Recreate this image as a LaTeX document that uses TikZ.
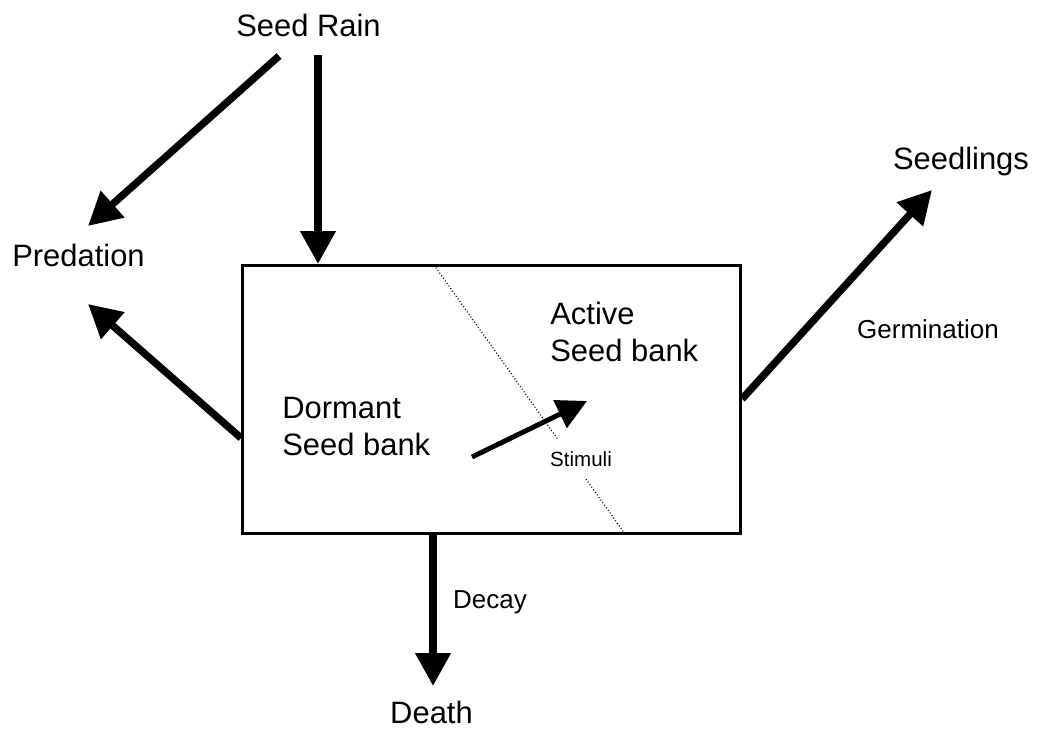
\documentclass[tikz,border=0pt]{standalone}
\usepackage{fontspec}
\setmainfont{Liberation Sans}
\usetikzlibrary{arrows.meta}

\begin{document}
\begin{tikzpicture}[x=0.02cm, y=-0.02cm,
		big/.style={font=\fontsize{17.6}{21}\selectfont, inner sep=0pt},
		mid/.style={font=\fontsize{14.8}{18}\selectfont, inner sep=0pt},
		small/.style={font=\fontsize{11.7}{14}\selectfont, inner sep=0pt},
		flow/.style={line width=4.2pt, -{Triangle[length=0.66cm,width=0.68cm]}},
		cue/.style={line width=2.8pt, -{Triangle[length=0.6cm,width=0.6cm]}}]
	\useasboundingbox (0,0) rectangle (1037,729);
	% the seed bank box
	\node[draw, line width=1.7pt, minimum width=9.98cm, minimum height=5.38cm, inner sep=0pt](bank) at (491.5,399.5){};
	\node[big, anchor=north west, align=left](active) at (550,302){Active\\Seed bank};
	\node[big, anchor=north west, align=left](dormant) at (282,397){Dormant\\Seed bank};
	% outside
	\node[big, anchor=base](rain) at (308.5,37){Seed Rain};
	\node[big, anchor=base](predation) at (78.5,267){Predation};
	\node[big, anchor=base](seedlings) at (961,170){Seedlings};
	\node[big, anchor=base](death) at (431.5,723){Death};
	\node[mid, anchor=base](germination) at (928,338){Germination};
	\node[mid, anchor=base](decay) at (490,608){Decay};
	% arrow ends
	\coordinate (rainout1) at (279,56);
	\coordinate (rainout2) at (318,55);
	\coordinate (predin1) at (88,226);
	\coordinate (predin2) at (88,304);
	\coordinate (bankin) at (318,264);
	\coordinate (bankwest) at (241,438);
	\coordinate (bankeast) at (742,399);
	\coordinate (banksouth) at (433,534);
	\coordinate (seedin) at (932,190);
	\coordinate (deathin) at (433,686);
	\coordinate (dormout) at (472,457);
	\coordinate (activein) at (587,401);
	\coordinate (splittop) at (434,265);
	\coordinate (splitbot) at (625,534);
	% dormant / active split
	\draw[line width=0.6pt, dash pattern=on 0.6pt off 1.2pt] (splittop) -- (splitbot);
	\node[small, fill=white, inner xsep=2pt, inner ysep=0.24cm](stimuli) at (581,459){Stimuli};
	\path[draw, flow] (rainout1) -- (predin1);
	\path[draw, flow] (rainout2) -- (bankin);
	\path[draw, flow] (bankwest) -- (predin2);
	\path[draw, flow] (bankeast) -- (seedin);
	\path[draw, flow] (banksouth) -- (deathin);
	\path[draw, cue] (dormout) -- (activein);
\end{tikzpicture}
\end{document}
